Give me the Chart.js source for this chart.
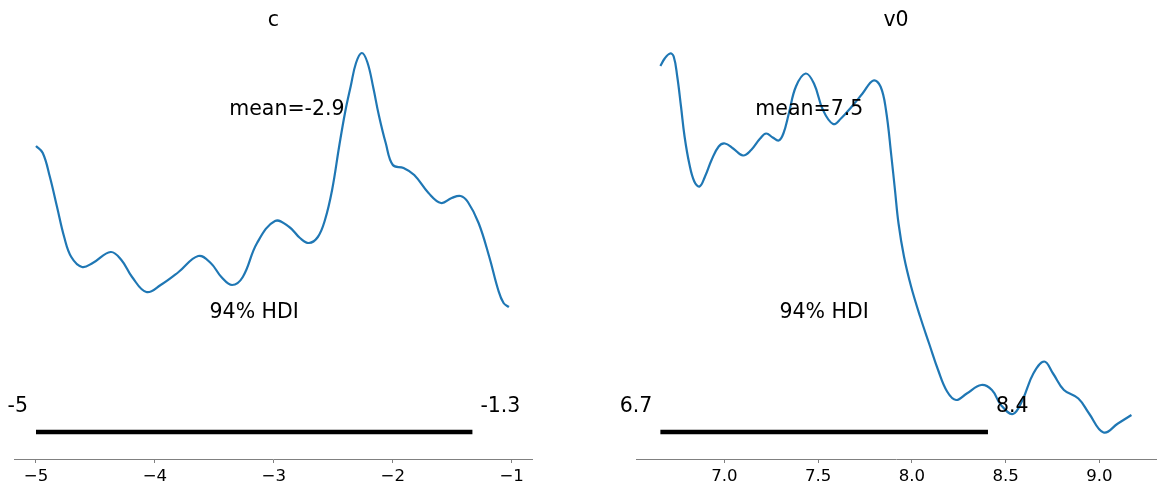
<!DOCTYPE html>
<html>
<head>
<meta charset="utf-8">
<script src="https://cdn.jsdelivr.net/npm/chart.js@4.4.1/dist/chart.umd.min.js"></script>
<style>
  html, body { margin: 0; padding: 0; background: #fff; }
  #wrap { position: relative; width: 1164px; height: 497px; overflow: hidden; }
  canvas { position: absolute; top: 0; }
</style>
</head>
<body>
<div id="wrap">
  <canvas id="cChart" width="582" height="497" style="left:0px"></canvas>
  <canvas id="vChart" width="582" height="497" style="left:582px"></canvas>
</div>
<script>
// ---- Data: posterior density of "c" ----
const cX = [-5.0, -4.943, -4.883, -4.823, -4.763, -4.703, -4.613, -4.523, -4.372, -4.282, -4.192, -4.072, -3.952, -3.801, -3.636, -3.531, -3.441, -3.351, -3.261, -3.141, -2.990, -2.870, -2.780, -2.705, -2.630, -2.570, -2.510, -2.450, -2.400, -2.353, -2.309, -2.261, -2.214, -2.163, -2.119, -2.059, -1.999, -1.909, -1.819, -1.699, -1.594, -1.504, -1.429, -1.368, -1.278, -1.188, -1.113, -1.068, -1.023];
const cY = [0.294, 0.287, 0.263, 0.233, 0.203, 0.183, 0.173, 0.177, 0.188, 0.180, 0.163, 0.148, 0.155, 0.168, 0.184, 0.177, 0.163, 0.155, 0.163, 0.197, 0.219, 0.213, 0.202, 0.197, 0.203, 0.220, 0.250, 0.294, 0.328, 0.354, 0.377, 0.387, 0.378, 0.352, 0.326, 0.297, 0.275, 0.272, 0.265, 0.247, 0.237, 0.242, 0.244, 0.238, 0.217, 0.183, 0.150, 0.137, 0.133];
const cTicks = [-5, -4, -3, -2, -1];
const cTickLabels = ['\u22125', '\u22124', '\u22123', '\u22122', '\u22121'];
const cHdi = [-5.0, -1.33];
const cHdiLabels = ['-5', '-1.3'];
const cMean = -2.89;
const cMeanLabel = 'mean=-2.9';

// ---- Data: posterior density of "v0" ----
const vX = [6.659, 6.682, 6.711, 6.730, 6.749, 6.769, 6.788, 6.813, 6.840, 6.868, 6.897, 6.932, 6.970, 7.003, 7.047, 7.100, 7.143, 7.191, 7.223, 7.258, 7.290, 7.315, 7.344, 7.382, 7.434, 7.478, 7.526, 7.580, 7.622, 7.680, 7.737, 7.795, 7.833, 7.862, 7.891, 7.910, 7.929, 7.958, 7.996, 8.044, 8.092, 8.140, 8.188, 8.236, 8.293, 8.370, 8.427, 8.475, 8.539, 8.590, 8.648, 8.706, 8.753, 8.811, 8.888, 8.945, 9.022, 9.099, 9.171];
const vY = [0.748, 0.763, 0.773, 0.767, 0.727, 0.667, 0.607, 0.553, 0.517, 0.507, 0.527, 0.560, 0.587, 0.593, 0.583, 0.569, 0.580, 0.603, 0.613, 0.605, 0.599, 0.613, 0.653, 0.707, 0.733, 0.713, 0.660, 0.632, 0.643, 0.667, 0.693, 0.719, 0.707, 0.660, 0.567, 0.500, 0.433, 0.367, 0.307, 0.247, 0.193, 0.140, 0.097, 0.080, 0.093, 0.110, 0.100, 0.070, 0.052, 0.080, 0.133, 0.157, 0.133, 0.100, 0.083, 0.053, 0.015, 0.033, 0.050];
const vTicks = [7.0, 7.5, 8.0, 8.5, 9.0];
const vTickLabels = ['7.0', '7.5', '8.0', '8.5', '9.0'];
const vHdi = [6.659, 8.406];
const vHdiLabels = ['6.7', '8.4'];
const vMean = 7.453;
const vMeanLabel = 'mean=7.5';

const HDI_TEXT = '94% HDI';
const FONT = '"DejaVu Sans", "Liberation Sans", sans-serif';

const textPlugin = {
  id: 'posteriorText',
  afterDatasetsDraw(chart) {
    const o = chart.options.plugins.posteriorText;
    const ctx = chart.ctx;
    const xs = chart.scales.x;
    const ca = chart.chartArea;
    ctx.save();
    ctx.fillStyle = '#000';
    ctx.font = '20.5px ' + FONT;
    ctx.textBaseline = 'middle';
    ctx.textAlign = 'center';
    ctx.fillText(o.title, (ca.left + ca.right) / 2, o.titleY);
    ctx.fillText(o.meanLabel, xs.getPixelForValue(o.mean), o.meanY);
    ctx.fillText(HDI_TEXT, (xs.getPixelForValue(o.hdi[0]) + xs.getPixelForValue(o.hdi[1])) / 2, o.hdiTextY);
    ctx.textAlign = 'right';
    ctx.fillText(o.hdiLabels[0], xs.getPixelForValue(o.hdi[0]) - 8, o.hdiValY);
    ctx.textAlign = 'left';
    ctx.fillText(o.hdiLabels[1], xs.getPixelForValue(o.hdi[1]) + 8, o.hdiValY);
    ctx.restore();
  }
};

function makePanel(id, p) {
  const curve = p.xs.map((x, i) => ({ x: x, y: p.ys[i] }));
  const bar = [{ x: p.hdi[0], y: p.barY }, { x: p.hdi[1], y: p.barY }];
  return new Chart(document.getElementById(id), {
    type: 'line',
    data: {
      datasets: [
        { data: curve, borderColor: '#1f77b4', borderWidth: 2.2, pointRadius: 0, fill: false, tension: 0.4 },
        { data: bar, borderColor: '#000', borderWidth: 4.4, pointRadius: 0, fill: false, borderCapStyle: 'butt' }
      ]
    },
    options: {
      responsive: false,
      animation: false,
      devicePixelRatio: 1,
      events: [],
      layout: { padding: { left: p.padLeft, right: p.padRight, top: 35, bottom: 0 } },
      plugins: {
        legend: { display: false },
        tooltip: { enabled: false },
        title: { display: false },
        posteriorText: {
          title: p.title, titleY: 21,
          mean: p.mean, meanLabel: p.meanLabel, meanY: 110,
          hdi: p.hdi, hdiLabels: p.hdiLabels, hdiTextY: 313, hdiValY: 407
        }
      },
      scales: {
        x: {
          type: 'linear',
          min: p.xMin, max: p.xMax,
          afterBuildTicks: (s) => { s.ticks = p.ticks.map(v => ({ value: v })); },
          afterFit: (s) => { s.height = 38; },
          ticks: {
            autoSkip: false, maxRotation: 0,
            color: '#000',
            padding: 4,
            font: { family: FONT, size: 16.6 },
            callback: (v) => { const i = p.ticks.indexOf(v); return i >= 0 ? p.tickLabels[i] : ''; }
          },
          grid: { drawOnChartArea: false, drawTicks: true, tickLength: 4, color: '#808080', lineWidth: 1 },
          border: { display: true, color: '#808080', width: 1 }
        },
        y: { type: 'linear', display: false, min: p.yMin, max: p.yMax }
      }
    },
    plugins: [textPlugin]
  });
}

makePanel('cChart', {
  xs: cX, ys: cY, ticks: cTicks, tickLabels: cTickLabels,
  hdi: cHdi, hdiLabels: cHdiLabels, mean: cMean, meanLabel: cMeanLabel, title: 'c',
  xMin: -5.185, xMax: -0.823, yMin: -0.019, yMax: 0.405, barY: 0.008,
  padLeft: 14, padRight: 49.3
});
makePanel('vChart', {
  xs: vX, ys: vY, ticks: vTicks, tickLabels: vTickLabels,
  hdi: vHdi, hdiLabels: vHdiLabels, mean: vMean, meanLabel: vMeanLabel, title: 'v0',
  xMin: 6.529, xMax: 9.302, yMin: -0.038, yMax: 0.81, barY: 0.016,
  padLeft: 54, padRight: 8
});
</script>
</body>
</html>
